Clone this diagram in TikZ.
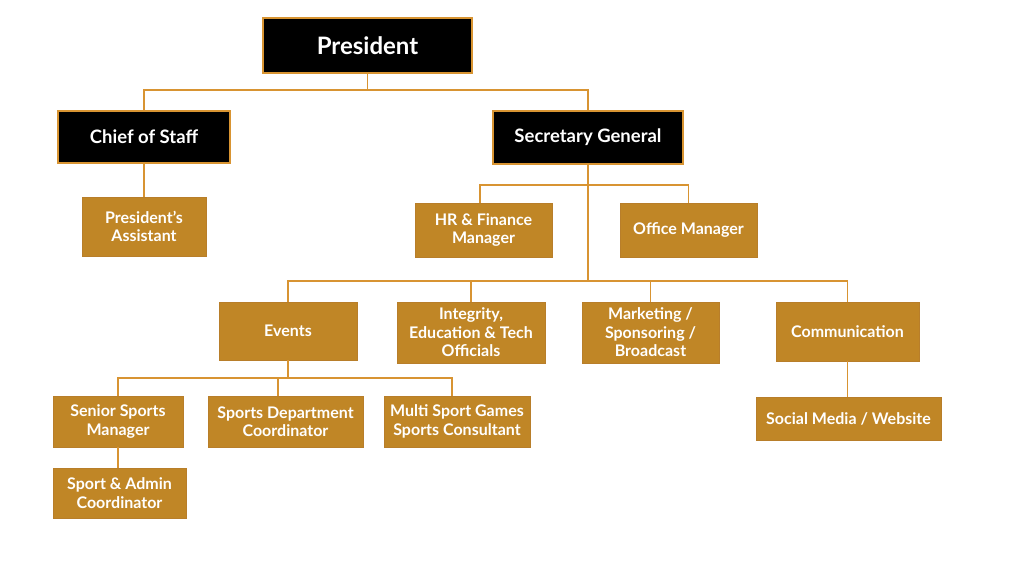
\documentclass[tikz,border=0pt]{standalone}
\usepackage{fontspec}
\setmainfont{Lato}
\usepackage{tikz}

\definecolor{boxgold}{RGB}{192,134,38}
\definecolor{lineorange}{RGB}{216,148,50}

\begin{document}
\begin{tikzpicture}[x=1pt,y=-1pt,
  topbox/.style={draw=lineorange,line width=1.2pt,fill=black,text=white,
    font=\bfseries\fontsize{18.5}{22}\selectfont,inner sep=0pt},
  goldbox/.style={draw=lineorange!85!black,line width=0.8pt,fill=boxgold,text=white,
    font=\bfseries\fontsize{16}{18.5}\selectfont,align=center,inner sep=0pt},
  link/.style={draw=lineorange,line width=1.5pt}]

\useasboundingbox (0,0) rectangle (1024,576);


%top level
\node [topbox,minimum width=209pt,minimum height=55pt,font=\bfseries\fontsize{24}{28}\selectfont] (pres) at (367.5,45.5) {President};

%second level
\node [topbox,minimum width=172pt,minimum height=52pt] (staff) at (144,137) {Chief of Staff};
\node [topbox,minimum width=190pt,minimum height=53pt] (secgen) at (588,137.5) {Secretary General};

%under chief of staff
\node [goldbox,minimum width=124pt,minimum height=59pt] (assist) at (144,226.5) {President's\\Assistant};

%under secretary general
\node [goldbox,minimum width=137pt,minimum height=54pt] (hrfin) at (483.5,230) {HR \& Finance\\Manager};
\node [goldbox,minimum width=137pt,minimum height=54pt] (office) at (688.5,230) {Office Manager};

%departments
\node [goldbox,minimum width=138pt,minimum height=58pt] (events) at (288,331) {Events};
\node [goldbox,minimum width=148pt,minimum height=61pt] (integ) at (471,332.5) {Integrity,\\Education \& Tech\\Officials};
\node [goldbox,minimum width=137pt,minimum height=61pt] (market) at (650.5,332.5) {Marketing /\\Sponsoring /\\Broadcast};
\node [goldbox,minimum width=143pt,minimum height=59pt] (comm) at (847.5,331.5) {Communication};

%under events
\node [goldbox,minimum width=130pt,minimum height=51pt] (senior) at (118,421.5) {Senior Sports\\Manager};
\node [goldbox,minimum width=155pt,minimum height=51pt] (sportsdep) at (285.5,421.5) {Sports Department\\Coordinator};
\node [goldbox,minimum width=146pt,minimum height=51pt] (multi) at (457,421.5) {Multi Sport Games\\Sports Consultant};
\node [goldbox,minimum width=133pt,minimum height=50pt] (admin) at (119.5,493) {Sport \& Admin\\Coordinator};

%under communication
\node [goldbox,minimum width=185pt,minimum height=43pt] (social) at (848.5,418.5) {Social Media / Website};


%branch points
\coordinate (busA) at (367.5,90);
\coordinate (busB) at (588,185);
\coordinate (busC) at (588,281);
\coordinate (busD) at (288,378);

%president to second level
\draw [link] (pres.south) -- (busA);
\draw [link] (staff.north) |- (busA) -| (secgen.north);

\draw [link] (staff.south) -- (assist.north);

%secretary general branches
\draw [link] (secgen.south) -- (busB) -- (busC);
\draw [link] ([xshift=-3.5pt]hrfin.north) |- (busB) -| (office.north);
\draw [link] (events.north) |- (busC) -| (comm.north);
\draw [link] (integ.north) |- (busC);
\draw [link] (market.north) |- (busC);

%events branches
\draw [link] (events.south) -- (busD);
\draw [link] (senior.north) |- (busD) -| ([xshift=-5pt]multi.north);
\draw [link] ([xshift=-7.5pt]sportsdep.north) |- (busD);
\draw [link] (senior.south) -- (senior.south |- admin.north);

\draw [link] (comm.south) -- (comm.south |- social.north);

\end{tikzpicture}
\end{document}
